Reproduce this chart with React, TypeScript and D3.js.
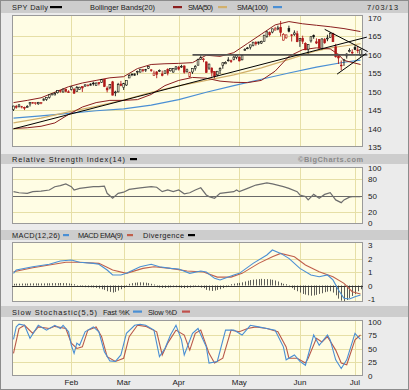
import * as d3 from "d3";

// SPY daily, trading days Jan 2 .. Jul 3 2013 (index = trading day)
const opens = [
  145.11, 145.99, 145.97, 145.85, 145.71, 145.87, 146.64, 147.02, 146.86, 146.67,
  146.8, 147.53, 147.87, 148.42, 149.16, 149.06, 149.67, 150.29, 149.86, 150.61,
  149.91, 150.58, 150.59, 149.95, 150.55, 151.31, 151.46, 151.58, 151.64, 152.28,
  151.58, 152.39, 152.47, 153.28, 150.9, 151.0, 152.63, 149.72, 149.89, 152.02,
  151.09, 151.76, 153.66, 154.74, 154.38, 155.25, 155.25, 155.87, 155.66, 156.29,
  155.85, 154.34, 155.3, 155.52, 154.76, 154.85, 156.01, 155.59, 155.26, 156.09,
  156.59, 156.61, 156.91, 155.43, 153.95, 155.27, 156.29, 157.11, 158.69, 158.68,
  158.0, 156.33, 156.33, 155.37, 154.5, 155.78, 157.04, 157.48, 158.34, 158.32,
  158.67, 159.26, 159.33, 158.56, 161.16, 161.7, 161.98, 162.44, 163.21, 162.99,
  163.09, 163.58, 164.93, 165.94, 166.07, 166.59, 166.9, 167.34, 163.89, 164.49,
  167.03, 165.31, 165.41, 165.61, 163.87, 164.35, 162.92, 161.43, 163.67, 165.09,
  163.43, 164.06, 161.56, 164.07, 164.27, 164.62, 165.64, 162.1, 159.73, 157.13,
  158.37, 159.61, 160.79, 160.63, 161.87, 161.23, 159.84,
];
const highs = [
  146.15, 146.37, 146.61, 146.11, 145.91, 146.32, 147.09, 147.15, 147.07, 147.19,
  147.05, 148.12, 148.33, 149.14, 149.45, 149.84, 150.3, 150.32, 150.74, 150.84,
  150.34, 151.42, 150.97, 151.5, 151.27, 151.37, 151.91, 151.84, 152.2, 152.62,
  152.43, 152.55, 153.28, 153.28, 151.4, 151.92, 152.86, 150.2, 152.33, 152.86,
  152.34, 152.92, 154.7, 154.79, 154.87, 155.65, 156.04, 156.1, 156.11, 156.85,
  156.04, 155.64, 155.51, 155.95, 155.64, 155.6, 156.27, 156.23, 156.25, 156.85,
  156.91, 157.21, 157.03, 156.17, 155.35, 156.22, 157.14, 158.87, 159.71, 159.04,
  158.13, 157.52, 156.53, 155.47, 155.54, 156.54, 157.85, 158.16, 159.27, 158.6,
  159.65, 159.73, 159.41, 159.86, 161.69, 162.04, 162.6, 163.34, 163.6, 163.44,
  163.75, 165.26, 166.39, 166.23, 166.98, 167.47, 167.8, 169.07, 165.78, 165.37,
  167.79, 165.51, 166.52, 166.39, 164.46, 165.09, 163.3, 162.83, 164.91, 165.4,
  164.37, 164.2, 164.37, 164.48, 165.34, 165.99, 165.88, 162.88, 160.19, 158.38,
  158.81, 160.33, 161.68, 161.4, 162.47, 162.31, 161.55,
];
const lows = [
  144.73, 145.34, 145.67, 145.43, 144.98, 145.64, 145.95, 146.62, 146.43, 146.41,
  146.56, 147.4, 147.49, 148.07, 148.88, 149.02, 149.45, 149.66, 149.71, 149.77,
  149.67, 150.27, 149.38, 149.92, 150.42, 149.87, 151.3, 151.36, 151.6, 151.58,
  151.51, 151.64, 152.3, 151.19, 149.76, 150.59, 148.97, 148.73, 149.76, 151.41,
  150.41, 151.52, 153.64, 154.14, 154.21, 154.42, 155.13, 155.2, 155.3, 156.07,
  155.31, 154.2, 153.59, 155.26, 154.1, 154.73, 154.35, 155.42, 155.08, 155.75,
  155.67, 156.37, 154.82, 155.09, 153.77, 154.75, 155.65, 157.05, 158.54, 157.92,
  155.1, 155.83, 154.02, 153.55, 154.12, 154.75, 156.15, 157.42, 158.1, 157.73,
  158.42, 158.72, 158.1, 158.43, 160.96, 161.42, 161.36, 162.2, 162.4, 162.64,
  162.83, 163.53, 164.52, 164.9, 165.73, 166.55, 166.56, 164.9, 163.73, 164.27,
  165.98, 163.51, 165.05, 163.34, 162.05, 162.85, 161.16, 160.25, 163.22, 164.24,
  162.82, 161.63, 161.29, 162.88, 163.59, 164.52, 163.45, 159.15, 157.43, 155.73,
  156.92, 158.88, 160.55, 159.86, 161.19, 160.34, 159.46,
];
const closes = [
  146.06, 145.73, 146.37, 145.97, 145.55, 145.92, 147.08, 147.07, 146.97, 147.07,
  147.05, 148.0, 148.33, 149.13, 149.37, 149.41, 150.25, 150.07, 150.66, 150.07,
  149.7, 151.24, 149.54, 151.05, 151.16, 150.96, 151.8, 151.77, 152.02, 152.15,
  152.29, 152.11, 153.25, 151.34, 150.42, 151.89, 149.0, 149.85, 151.89, 151.61,
  152.11, 152.92, 154.29, 154.5, 154.78, 155.44, 156.03, 155.68, 155.9, 156.73,
  155.83, 154.97, 154.61, 155.69, 154.36, 155.6, 154.95, 156.19, 156.19, 156.67,
  156.05, 156.82, 155.23, 155.86, 155.16, 156.21, 156.75, 158.67, 159.19, 158.8,
  155.12, 157.41, 155.11, 154.14, 155.48, 156.17, 157.78, 157.88, 158.52, 158.24,
  159.3, 159.68, 158.28, 159.75, 161.37, 161.78, 162.6, 163.34, 162.88, 163.41,
  163.54, 165.23, 166.12, 165.34, 166.94, 166.93, 167.17, 165.93, 165.45, 165.31,
  166.3, 165.22, 165.83, 163.45, 164.35, 163.56, 161.27, 162.73, 164.8, 164.8,
  163.1, 161.75, 164.21, 163.18, 164.44, 165.74, 163.45, 159.4, 159.07, 157.06,
  158.57, 160.14, 161.08, 160.42, 161.36, 161.21, 161.28,
];

// overlays, [day, value]
const bbUpper = [
  [0, 147.0], [5, 147.6], [10, 148.3], [15, 149.8], [20, 151.3], [25, 152.3], [30, 153.0],
  [35, 153.7], [40, 154.0], [45, 156.2], [50, 157.3], [55, 157.5], [60, 157.6], [65, 157.8],
  [70, 159.8], [75, 159.5], [80, 160.5], [85, 163.0], [90, 165.5], [95, 168.0], [100, 168.9],
  [105, 168.3], [110, 167.9], [115, 167.5], [120, 167.0], [126, 166.2],
];
const bbLower = [
  [0, 140.0], [5, 140.2], [10, 140.6], [15, 141.5], [20, 143.8], [25, 145.8], [30, 147.0],
  [35, 147.6], [40, 147.6], [45, 147.8], [50, 149.2], [55, 151.6], [60, 153.0], [65, 153.8],
  [70, 153.6], [75, 152.8], [80, 152.5], [85, 152.4], [90, 153.0], [95, 155.5], [100, 159.5],
  [105, 161.3], [110, 161.8], [115, 161.5], [118, 160.0], [120, 158.4], [126, 157.3],
];
const sma50 = [
  [0, 141.5], [10, 142.8], [20, 144.5], [30, 146.0], [40, 147.7], [50, 149.8], [60, 151.5],
  [70, 153.0], [80, 154.5], [90, 156.4], [100, 158.7], [110, 161.0], [116, 161.9],
  [120, 162.3], [126, 162.9],
];
const sma100 = [
  [0, 142.8], [10, 143.4], [20, 144.1], [30, 144.8], [40, 145.3], [50, 146.3], [60, 147.8],
  [70, 149.8], [80, 151.6], [90, 153.3], [100, 155.0], [110, 156.6], [120, 157.9], [126, 158.5],
];
// hand drawn trend lines, [day, price] end points
const trendLines = [
  [[0, 139.9], [128.3, 164.7]],
  [[113, 166.8], [128.6, 160.8]],
  [[117.5, 154.7], [128.1, 160.3]],
];
const supportLine = [[65, 159.9], [128.5, 159.9]];

const rsi = [
  [0, 57], [2, 55], [5, 54], [7, 57], [10, 58], [13, 60], [15, 66], [17, 68], [19, 71],
  [21, 66], [22, 60], [24, 63], [29, 66], [31, 66], [33, 67], [34, 54], [36, 45], [38, 54],
  [40, 56], [42, 61], [46, 64], [50, 66], [52, 65], [54, 57], [56, 60], [58, 57], [60, 60],
  [62, 53], [64, 55], [66, 60], [68, 64], [70, 51], [71, 48], [73, 45], [75, 54], [80, 57],
  [81, 60], [82, 57], [85, 63], [88, 69], [92, 73], [94, 71], [98, 66], [100, 63], [103, 57],
  [104, 51], [106, 48], [107, 42], [109, 52], [111, 45], [113, 52], [115, 55], [117, 42],
  [119, 37], [120, 42], [122, 47], [123, 48], [126, 48],
];

const macd = [
  [0, 0.9], [1, 1.15], [7, 1.39], [13, 1.57], [17, 1.81], [21, 1.89], [24, 1.72], [29, 1.64],
  [31, 1.57], [34, 1.15], [36, 0.78], [39, 0.78], [41, 0.9], [46, 1.39], [50, 1.57], [53, 1.39],
  [57, 1.27], [60, 1.22], [64, 0.9], [68, 1.07], [70, 1.0], [73, 0.53], [75, 0.41], [80, 0.78],
  [82, 0.9], [87, 1.64], [92, 2.26], [94, 2.63], [97, 2.38], [100, 2.01], [104, 1.27],
  [108, 0.78], [111, 0.65], [114, 0.78], [116, 0.41], [118, -0.33], [120, -0.95], [122, -1.0],
  [124, -0.83], [126, -0.7],
];
const macdEma = [
  [0, 1.02], [7, 1.32], [19, 1.72], [24, 1.72], [31, 1.64], [36, 1.15], [41, 0.9], [47, 1.27],
  [51, 1.39], [57, 1.27], [63, 1.07], [69, 1.0], [74, 0.62], [79, 0.62], [83, 0.9], [89, 1.64],
  [94, 2.13], [97, 2.38], [102, 2.13], [106, 1.52], [111, 1.02], [116, 0.65], [120, 0.16],
  [123, -0.46], [126, -0.63],
];
const divergence = [
  0.05, 0.06, 0.06, 0.07, 0.07, 0.07, 0.08, 0.08, 0.08, 0.08,
  0.08, 0.08, 0.09, 0.09, 0.1, 0.1, 0.1, 0.11, 0.1, 0.1,
  0.08, 0.05, 0.02, -0.02, -0.03, -0.04, -0.05, -0.06, -0.06, -0.07,
  -0.1, -0.15, -0.2, -0.25, -0.35, -0.4, -0.45, -0.4, -0.3, -0.2,
  -0.1, -0.02, 0.05, 0.1, 0.13, 0.15, 0.16, 0.15, 0.13, 0.1,
  0.05, 0.0, -0.05, -0.08, -0.1, -0.1, -0.08, -0.06, -0.05, -0.05,
  -0.06, -0.1, -0.12, -0.1, -0.08, -0.05, -0.02, -0.04, -0.08, -0.12,
  -0.25, -0.3, -0.33, -0.3, -0.25, -0.2, -0.12, -0.05, -0.02, 0.02,
  0.06, 0.1, 0.12, 0.16, 0.22, 0.28, 0.33, 0.36, 0.38, 0.4,
  0.42, 0.4, 0.4, 0.38, 0.35, 0.3, 0.22, 0.12, 0.05, 0.02,
  -0.05, -0.12, -0.25, -0.35, -0.45, -0.55, -0.6, -0.65, -0.68, -0.66,
  -0.62, -0.55, -0.5, -0.42, -0.38, -0.35, -0.45, -0.65, -0.9, -1.05,
  -1.08, -1.0, -0.85, -0.7, -0.55, -0.35, -0.2,
];

const stochK = [
  [0, 67], [1, 90], [2, 95], [4, 93], [6, 69], [9, 93], [12, 84], [15, 93], [17, 87], [18, 93],
  [20, 81], [21, 56], [22, 41], [23, 60], [24, 56], [26, 81], [29, 90], [31, 81], [33, 44],
  [35, 27], [37, 26], [39, 38], [41, 78], [44, 93], [46, 95], [48, 93], [51, 84], [53, 35],
  [55, 50], [57, 75], [59, 93], [61, 66], [62, 38], [65, 78], [67, 87], [70, 53], [71, 23],
  [74, 26], [77, 84], [80, 84], [83, 75], [86, 93], [89, 90], [92, 87], [95, 84], [98, 53],
  [99, 29], [102, 38], [104, 26], [106, 19], [109, 75], [111, 56], [114, 75], [115, 66],
  [117, 29], [119, 13], [121, 29], [124, 78], [125, 72], [126, 67],
];
const stochD = [
  [0, 41], [2, 87], [4, 93], [7, 78], [9, 90], [13, 87], [15, 91], [19, 87], [21, 60], [23, 50],
  [25, 53], [27, 84], [30, 90], [32, 72], [34, 35], [37, 26], [40, 32], [42, 72], [45, 93],
  [48, 91], [52, 81], [54, 38], [56, 60], [59, 84], [62, 75], [64, 47], [66, 78], [68, 84],
  [71, 41], [73, 23], [76, 32], [79, 84], [82, 81], [85, 87], [88, 90], [92, 87], [96, 81],
  [99, 53], [100, 32], [103, 32], [106, 23], [107, 32], [110, 69], [112, 62], [114, 72],
  [117, 47], [119, 23], [121, 20], [124, 66], [126, 75],
];

const months = ["Feb", "Mar", "Apr", "May", "Jun", "Jul"];
const monthStarts = [21, 40, 60, 82, 104, 124];
const priceTicks = [135, 140, 145, 150, 155, 160, 165, 170];
const rsiTicks = [0, 20, 50, 80, 100];
const macdTicks = [-1, 0, 1, 2, 3];
const stochTicks = [0, 25, 50, 75, 100];

const FONT = "Liberation Sans, Arial, sans-serif";
const BG = "#fffde4";
const GRID = "#e6dfa6";
const HEAD = "#cdcdcd";
const PL = 12;
const PR = 363;

const x = d3.scaleLinear().domain([0, 126]).range([13.5, 360.5]);

function HeaderBar({ y0, y1 }) {
  return <rect x={1} y={y0} width={407} height={y1 - y0} fill={HEAD} />;
}

function Label({ x: tx, y, text, len, bold = false, fill = "#1a1a1a", anchor = "start" }) {
  return (
    <text x={tx} y={y} fontFamily={FONT} fontSize={7.4} fontWeight={bold ? "bold" : "normal"}
      fill={fill} textAnchor={anchor} textLength={len} lengthAdjust="spacing">
      {text}
    </text>
  );
}

function Swatch({ x0, x1, y, color }) {
  return <rect x={x0} y={y - 1} width={x1 - x0} height={2.2} fill={color} />;
}

function PlotFrame({ top, bottom, y, grid, ticks, darkLine = null }) {
  return (
    <g>
      <rect x={PL} y={top} width={PR - PL} height={bottom - top} fill={BG} />
      {grid.map((v) => (
        <line key={"h" + v} x1={PL} x2={PR} y1={Math.round(y(v)) + 0.5} y2={Math.round(y(v)) + 0.5}
          stroke={GRID} strokeWidth={1} />
      ))}
      {monthStarts.map((d) => (
        <line key={"v" + d} x1={Math.round(x(d)) + 0.5} x2={Math.round(x(d)) + 0.5} y1={top} y2={bottom}
          stroke={GRID} strokeWidth={1} />
      ))}
      {darkLine !== null && (
        <line x1={PL} x2={PR} y1={Math.round(y(darkLine)) + 0.5} y2={Math.round(y(darkLine)) + 0.5}
          stroke="#6a6a6a" strokeWidth={1.2} />
      )}
      <rect x={PL + 0.5} y={top + 0.5} width={PR - PL - 1} height={bottom - top - 1} fill="none"
        stroke="#9a9a9a" strokeWidth={1} />
      {ticks.map((v) => (
        <text key={"t" + v} x={368} y={y(v) + 3} fontFamily={FONT} fontSize={8} fill="#1a1a1a">
          {v}
        </text>
      ))}
    </g>
  );
}

export default function App() {
  const yP = d3.scaleLinear().domain([135, 170]).range([147, 17.5]);
  const yR = d3.scaleLinear().domain([0, 100]).range([223, 168]);
  const yM = d3.scaleLinear().domain([-1, 3]).range([299, 245]);
  const yS = d3.scaleLinear().domain([0, 100]).range([375.5, 321.5]);

  const mk = (ys) => d3.line().x((d) => x(d[0])).y((d) => ys(d[1]));
  const lineP = mk(yP);
  const lineR = mk(yR);
  const lineM = mk(yM);
  const lineS = mk(yS);

  const candles = closes.map((c, i) => {
    const o = opens[i];
    const prev = i > 0 ? closes[i - 1] : o;
    const color = c < prev ? "#b01818" : "#111";
    const cx = x(i);
    const top = yP(Math.max(o, c));
    const bot = yP(Math.min(o, c));
    return (
      <g key={i}>
        <line x1={cx} x2={cx} y1={yP(highs[i])} y2={yP(lows[i])} stroke={color} strokeWidth={0.9} />
        <rect x={cx - 0.9} y={top} width={1.8} height={Math.max(bot - top, 0.8)}
          fill={c > o ? "#f4f0d0" : color} stroke={color} strokeWidth={0.6} />
      </g>
    );
  });

  return (
    <svg width={409} height={390} style={{ position: "absolute", left: 0, top: 0 }}>
      <rect x={0.5} y={0.5} width={408} height={389} fill="#ebebeb" stroke="#8c8c8c" />

      {/* price panel */}
      <HeaderBar y0={1} y1={13} />
      <Label x={12} y={10} text="SPY Daily" len={36} />
      <Swatch x0={50} x1={62} y={7} color="#000" />
      <Label x={90} y={10} text="Bollinger Bands(20)" len={65} />
      <Swatch x0={173} x1={182} y={7} color="#8b1f1f" />
      <Label x={188} y={10} text="SMA(50)" len={25} />
      <Swatch x0={218} x1={227} y={7} color="#d2b06c" />
      <Label x={237} y={10} text="SMA(100)" len={31} />
      <Swatch x0={273} x1={282} y={7} color="#4a8fd4" />
      <Label x={398} y={10} text="7/03/13" len={31} anchor="end" />

      <PlotFrame top={15} bottom={147} y={yP} grid={[140, 145, 150, 155, 160, 165]} ticks={priceTicks} />
      <path d={lineP(sma100)} fill="none" stroke="#4a8fd4" strokeWidth={1.2} />
      <path d={lineP(sma50)} fill="none" stroke="#d2b06c" strokeWidth={1.2} />
      <path d={lineP(bbUpper)} fill="none" stroke="#8b1f1f" strokeWidth={1} />
      <path d={lineP(bbLower)} fill="none" stroke="#8b1f1f" strokeWidth={1} />
      {candles}
      <path d={lineP(supportLine)} fill="none" stroke="#555" strokeWidth={1.8} />
      {trendLines.map((t, i) => (
        <path key={i} d={lineP(t)} fill="none" stroke="#000" strokeWidth={1} />
      ))}

      {/* RSI panel */}
      <HeaderBar y0={154} y1={164} />
      <Label x={12} y={162} text="Relative Strength Index(14)" len={113} />
      <Swatch x0={130} x1={137} y={159} color="#000" />
      <Label x={298} y={162} text="©BigCharts.com" len={65} bold fill="#8a8a8a" />
      <PlotFrame top={167} bottom={224} y={yR} grid={[20, 80]} ticks={rsiTicks} darkLine={50} />
      <path d={lineR(rsi)} fill="none" stroke="#6e6e6e" strokeWidth={1.2} />

      {/* MACD panel */}
      <HeaderBar y0={230} y1={240} />
      <Label x={12} y={238} text="MACD(12,26)" len={48} />
      <Swatch x0={63} x1={69} y={235} color="#4a8fd4" />
      <Label x={78} y={238} text="MACD EMA(9)" len={45} />
      <Swatch x0={127} x1={133} y={235} color="#c0604c" />
      <Label x={143} y={238} text="Divergence" len={41} />
      <Swatch x0={188} x1={195} y={235} color="#000" />
      <PlotFrame top={242} bottom={302} y={yM} grid={[1, 2]} ticks={macdTicks} />
      <line x1={PL} x2={PR} y1={Math.round(yM(0)) + 0.5} y2={Math.round(yM(0)) + 0.5} stroke="#333" strokeWidth={1} />
      {divergence.map((v, i) => (
        <line key={i} x1={Math.round(x(i)) + 0.5} x2={Math.round(x(i)) + 0.5}
          y1={yM(0)} y2={yM(v) + (v >= 0 ? -1 : 1)} stroke="#333" strokeWidth={0.8} />
      ))}
      <path d={lineM(macdEma)} fill="none" stroke="#c0604c" strokeWidth={1.1} />
      <path d={lineM(macd)} fill="none" stroke="#4a8fd4" strokeWidth={1.1} />

      {/* Stochastic panel */}
      <HeaderBar y0={306} y1={317} />
      <Label x={12} y={314.5} text="Slow Stochastic(5,5)" len={85} />
      <Label x={103} y={314.5} text="Fast %K" len={27} />
      <Swatch x0={133} x1={142} y={311.5} color="#4a8fd4" />
      <Label x={148} y={314.5} text="Slow %D" len={29} />
      <Swatch x0={182} x1={190} y={311.5} color="#c0504c" />
      <PlotFrame top={320} bottom={376} y={yS} grid={[25, 50, 75]} ticks={stochTicks} />
      <path d={lineS(stochD)} fill="none" stroke="#b8584a" strokeWidth={1.1} />
      <path d={lineS(stochK)} fill="none" stroke="#4a8fd4" strokeWidth={1.1} />

      {months.map((m, i) => (
        <text key={m} x={Math.min(x(monthStarts[i]), 357)} y={384.5} fontFamily={FONT} fontSize={8}
          fill="#1a1a1a" textAnchor="middle">
          {m}
        </text>
      ))}
    </svg>
  );
}
